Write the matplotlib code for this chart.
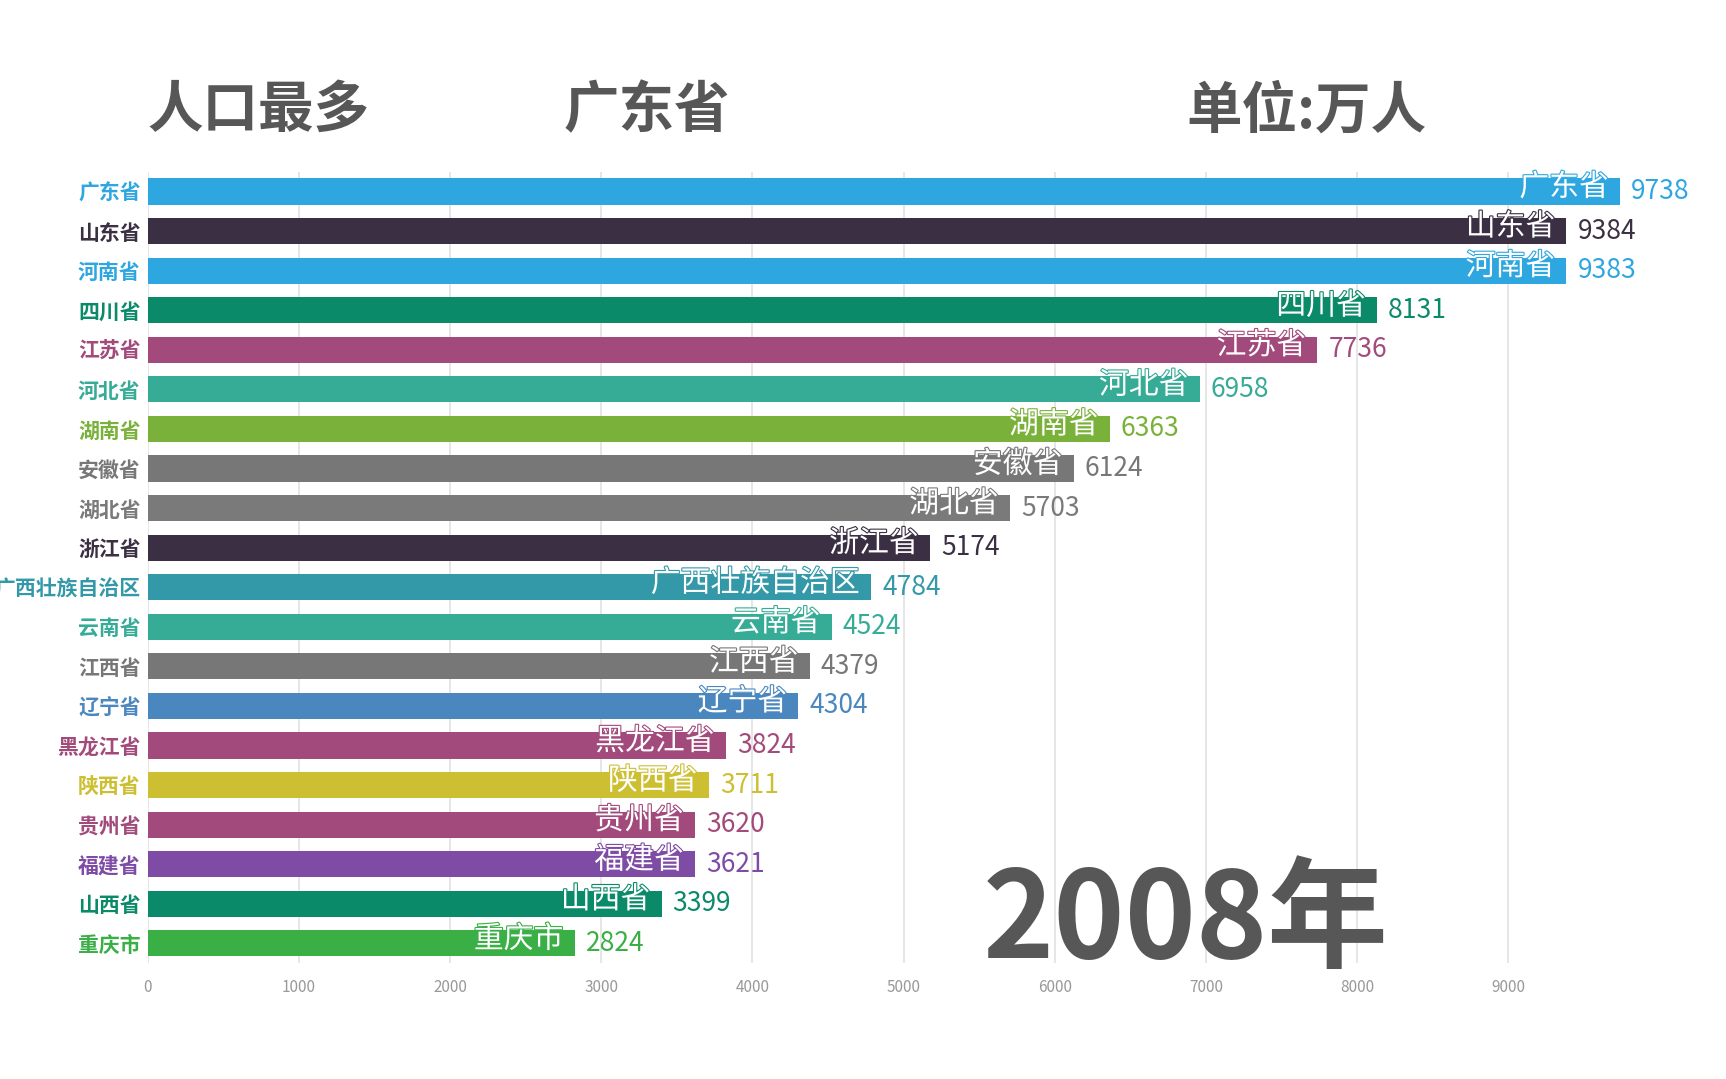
import matplotlib
matplotlib.use("Agg")
import matplotlib.pyplot as plt
import matplotlib.patheffects as pe

plt.rcParams['font.family'] = ['Noto Sans CJK SC', 'DejaVu Sans']

names = ['广东省', '山东省', '河南省', '四川省', '江苏省', '河北省', '湖南省', '安徽省',
         '湖北省', '浙江省', '广西壮族自治区', '云南省', '江西省', '辽宁省', '黑龙江省',
         '陕西省', '贵州省', '福建省', '山西省', '重庆市']
values = [9738, 9384, 9383, 8131, 7736, 6958, 6363, 6124, 5703, 5174, 4784, 4524,
          4379, 4304, 3824, 3711, 3620, 3621, 3399, 2824]
colors = ['#2ea7e0', '#3b2f43', '#2ea7e0', '#0b8a6a', '#a34a7c', '#36ab96', '#7ab13a',
          '#777777', '#7a7a7a', '#3b2f43', '#3399a9', '#36ab96', '#777777', '#4a87be',
          '#a34a7c', '#cdbf32', '#a34a7c', '#7e4ca5', '#0b8a6a', '#3aaf45']
xticks = [0, 1000, 2000, 3000, 4000, 5000, 6000, 7000, 8000, 9000]
title_left = '人口最多'
title_mid = '广东省'
title_right = '单位:万人'
year_label = '2008年'

fig = plt.figure(figsize=(17.26, 10.79), dpi=100)
ax = fig.add_axes([0.0855, 0.1073, 0.8531, 0.7336])

ypos = list(range(len(names)))
ax.barh(ypos, values, height=0.66, color=colors, zorder=3)
ax.set_ylim(len(names) - 0.5, -0.5)
ax.set_xlim(0, max(values))

ax.set_yticks(ypos)
ax.set_yticklabels(names, fontsize=15, fontweight='bold')
for lbl, c in zip(ax.get_yticklabels(), colors):
    lbl.set_color(c)
ax.tick_params(axis='y', length=0, pad=5)

ax.set_xticks(xticks)
ax.set_xticklabels([str(t) for t in xticks], fontsize=11, color='#999999')
ax.tick_params(axis='x', length=0, pad=11)

for s in ax.spines.values():
    s.set_visible(False)
ax.grid(axis='x', color='#e2e2e2', linewidth=1.2, zorder=0)
ax.set_axisbelow(True)

for y, v, n, c in zip(ypos, values, names, colors):
    ax.annotate(n, xy=(v, y), xytext=(-8, 3), textcoords='offset points',
                ha='right', va='center', fontsize=21.5, color='white', zorder=4,
                path_effects=[pe.withStroke(linewidth=1.6, foreground=c)])
    ax.annotate(str(v), xy=(v, y), xytext=(8, 0), textcoords='offset points',
                ha='left', va='center', fontsize=19, color=c, zorder=4,
                annotation_clip=False)

fig.text(0.0855, 0.897, title_left, fontsize=40, fontweight='bold', color='#575757',
         ha='left', va='center')
fig.text(0.3265, 0.897, title_mid, fontsize=40, fontweight='bold', color='#575757',
         ha='left', va='center')
fig.text(0.6875, 0.897, title_right, fontsize=40, fontweight='bold', color='#575757',
         ha='left', va='center')
fig.text(0.5695, 0.1124, year_label, fontsize=87, fontweight='bold', color='#575757',
         ha='left', va='baseline', zorder=5)

fig.savefig('out.png', dpi=100, facecolor='white')
